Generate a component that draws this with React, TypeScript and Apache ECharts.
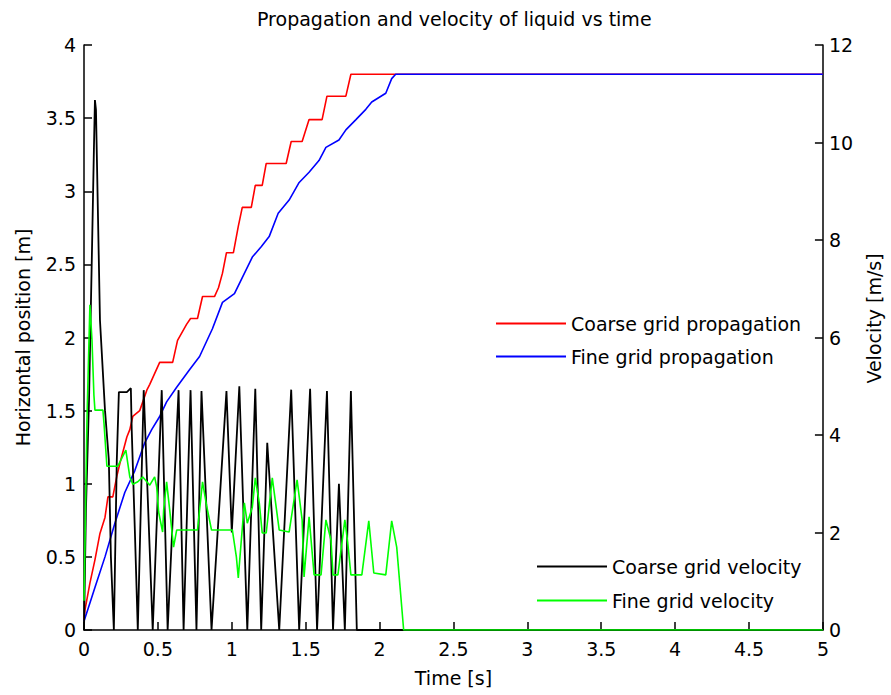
import React, { useEffect, useRef } from "react";
import * as echarts from "echarts";

const FONT = "DejaVu Sans";

const xTicks = [0, 5, 0.5];
const leftTicks = [0, 4, 0.5];
const rightTicks = [0, 12, 2];

const coarsePosT = [0, 0.007, 0.04, 0.074, 0.108, 0.142, 0.162, 0.195, 0.222, 0.243, 0.29, 0.31, 0.33, 0.377, 0.425, 0.445, 0.512, 0.6, 0.633, 0.694, 0.721, 0.768, 0.802, 0.883, 0.91, 0.937, 0.964, 1.011, 1.044, 1.071, 1.132, 1.159, 1.206, 1.233, 1.368, 1.402, 1.476, 1.523, 1.611, 1.644, 1.772, 1.806, 5];
const coarsePos = [0.07, 0.14, 0.32, 0.48, 0.66, 0.77, 0.91, 0.91, 1.05, 1.14, 1.32, 1.37, 1.46, 1.5, 1.64, 1.68, 1.83, 1.83, 1.98, 2.09, 2.13, 2.13, 2.28, 2.28, 2.34, 2.44, 2.58, 2.58, 2.76, 2.89, 2.89, 3.04, 3.04, 3.19, 3.19, 3.34, 3.34, 3.49, 3.49, 3.65, 3.65, 3.8, 3.8];

const finePosT = [0, 0.074, 0.142, 0.209, 0.276, 0.344, 0.411, 0.458, 0.512, 0.559, 0.627, 0.714, 0.782, 0.869, 0.937, 1.018, 1.071, 1.139, 1.199, 1.253, 1.314, 1.388, 1.456, 1.523, 1.59, 1.637, 1.725, 1.772, 1.84, 1.907, 1.947, 2.042, 2.082, 2.109, 5];
const finePos = [0.06, 0.29, 0.5, 0.73, 0.94, 1.09, 1.28, 1.37, 1.46, 1.56, 1.66, 1.78, 1.87, 2.06, 2.24, 2.3, 2.41, 2.55, 2.62, 2.69, 2.85, 2.94, 3.06, 3.13, 3.21, 3.3, 3.35, 3.42, 3.49, 3.56, 3.61, 3.67, 3.77, 3.8, 3.8];

const coarseVelT = [0, 0.013, 0.034, 0.054, 0.067, 0.074, 0.081, 0.108, 0.142, 0.168, 0.182, 0.202, 0.222, 0.236, 0.29, 0.317, 0.323, 0.344, 0.364, 0.404, 0.465, 0.526, 0.566, 0.64, 0.674, 0.721, 0.761, 0.795, 0.863, 0.964, 1.0, 1.051, 1.105, 1.159, 1.199, 1.24, 1.321, 1.402, 1.456, 1.53, 1.577, 1.644, 1.685, 1.725, 1.765, 1.806, 1.846, 5];
const coarseVel = [0, 2.46, 4.72, 7.79, 9.85, 10.87, 10.67, 6.36, 4.51, 3.49, 1.5, 0, 3.49, 4.88, 4.88, 4.96, 4.1, 2.05, 0, 4.92, 0, 4.92, 0, 4.92, 0, 4.92, 0, 4.9, 0, 4.9, 2.0, 5.0, 0, 4.95, 0, 3.84, 0, 4.93, 0, 4.95, 0, 4.9, 0, 3.0, 0, 4.9, 0, 0];

const fineVelT = [0, 0.007, 0.02, 0.04, 0.054, 0.067, 0.074, 0.128, 0.135, 0.155, 0.229, 0.283, 0.31, 0.33, 0.364, 0.398, 0.445, 0.478, 0.492, 0.505, 0.532, 0.539, 0.559, 0.58, 0.606, 0.627, 0.768, 0.802, 0.829, 0.863, 1.004, 1.031, 1.044, 1.085, 1.105, 1.139, 1.159, 1.186, 1.206, 1.233, 1.274, 1.321, 1.388, 1.442, 1.476, 1.489, 1.523, 1.557, 1.604, 1.637, 1.671, 1.685, 1.718, 1.765, 1.785, 1.806, 1.88, 1.927, 1.961, 2.042, 2.082, 2.116, 2.163, 5];
const fineVel = [0.6, 1.85, 4.3, 6.67, 5.95, 4.82, 4.51, 4.51, 4.25, 3.36, 3.36, 3.69, 3.14, 2.99, 3.04, 3.14, 2.97, 3.14, 2.93, 2.42, 2.01, 2.46, 3.04, 2.46, 1.7, 2.05, 2.05, 3.04, 2.56, 2.05, 2.05, 1.5, 1.07, 2.61, 2.19, 2.52, 3.12, 2.61, 1.99, 1.99, 3.12, 2.05, 2.01, 3.08, 2.26, 1.09, 2.32, 1.13, 1.13, 2.26, 1.85, 1.13, 1.13, 2.26, 1.78, 1.13, 1.13, 2.24, 1.17, 1.13, 2.24, 1.7, 0, 0];

const seriesNames = ["Coarse grid propagation", "Fine grid propagation", "Coarse grid velocity", "Fine grid velocity"];
const seriesColors = ["#ff0000", "#0000ff", "#000000", "#00ff00"];
const seriesWidths = [1.6, 1.6, 1.8, 1.6];

function pairs(xs: number[], ys: number[]) {
  return xs.map((x, i) => [x, ys[i]]);
}

export default function App() {
  const ref = useRef<HTMLDivElement>(null);
  useEffect(() => {
    if (!ref.current) return;
    const chart = echarts.init(ref.current, null, { renderer: "svg" });
    const text = { fontFamily: FONT, fontSize: 19, color: "#000" };
    const axisCommon = {
      axisLine: { show: true, lineStyle: { color: "#000", width: 1.5 } },
      axisTick: { show: true, inside: true, length: 8, lineStyle: { color: "#000", width: 1.5 } },
      splitLine: { show: false },
    };
    const lineSeries = (i: number, data: number[][], yAxisIndex: number) => ({
      name: seriesNames[i],
      type: "line",
      data,
      yAxisIndex,
      symbol: "none",
      showSymbol: false,
      color: seriesColors[i],
      lineStyle: { color: seriesColors[i], width: seriesWidths[i] },
      clip: true,
    });
    chart.setOption({
      animation: false,
      backgroundColor: "#fff",
      title: {
        text: "Propagation and velocity of liquid vs time",
        left: 257,
        top: 9,
        padding: 0,
        textStyle: { ...text, fontWeight: "normal" },
      },
      legend: [
        {
          data: [seriesNames[0], seriesNames[1]],
          orient: "vertical",
          left: 496,
          top: 314,
          padding: 0,
          icon: "rect",
          itemWidth: 70,
          itemHeight: 2,
          itemGap: 14,
          selectedMode: false,
          textStyle: { ...text, lineHeight: 18 },
        },
        {
          data: [seriesNames[2], seriesNames[3]],
          orient: "vertical",
          left: 537,
          top: 557,
          padding: 0,
          icon: "rect",
          itemWidth: 70,
          itemHeight: 2,
          itemGap: 15,
          selectedMode: false,
          textStyle: { ...text, lineHeight: 18 },
        },
      ],
      grid: { left: 84, right: 65, top: 45, bottom: 65, containLabel: false },
      xAxis: [
        {
          type: "value",
          min: xTicks[0],
          max: xTicks[1],
          interval: xTicks[2],
          position: "bottom",
          name: "Time [s]",
          nameLocation: "middle",
          nameGap: 38,
          nameTextStyle: text,
          axisLabel: { ...text, margin: 9 },
          ...axisCommon,
        },
      ],
      yAxis: [
        {
          type: "value",
          min: leftTicks[0],
          max: leftTicks[1],
          interval: leftTicks[2],
          position: "left",
          name: "Horizontal position [m]",
          nameLocation: "middle",
          nameGap: 52,
          nameTextStyle: text,
          axisLabel: { ...text, margin: 8 },
          ...axisCommon,
        },
        {
          type: "value",
          min: rightTicks[0],
          max: rightTicks[1],
          interval: rightTicks[2],
          position: "right",
          name: "Velocity [m/s]",
          nameLocation: "middle",
          nameGap: 36,
          nameTextStyle: { ...text, padding: [0, 0, 0, 38] },
          axisLabel: { ...text, margin: 6 },
          ...axisCommon,
        },
      ],
      series: [
        lineSeries(0, pairs(coarsePosT, coarsePos), 0),
        lineSeries(1, pairs(finePosT, finePos), 0),
        lineSeries(2, pairs(coarseVelT, coarseVel), 1),
        lineSeries(3, pairs(fineVelT, fineVel), 1),
      ],
    });
    return () => chart.dispose();
  }, []);
  return (
    <div
      ref={ref}
      style={{ position: "fixed", left: 0, top: 0, width: 891, height: 695, background: "#fff" }}
    />
  );
}
